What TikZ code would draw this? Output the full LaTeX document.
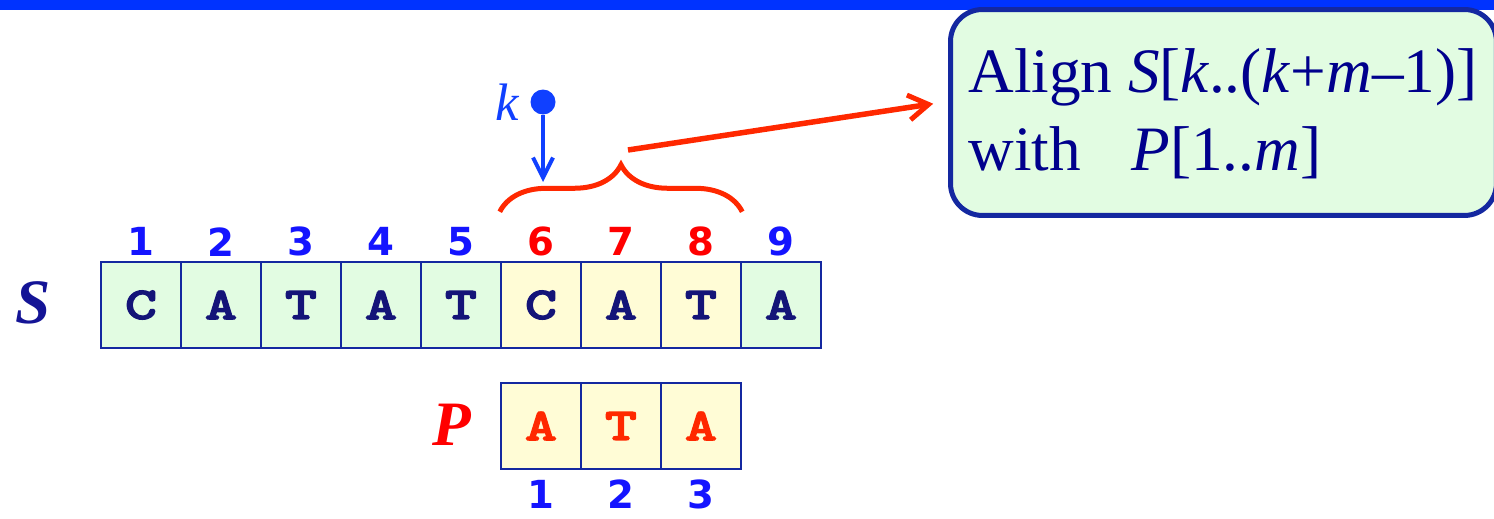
\documentclass[tikz,border=0pt]{standalone}
\usepackage{fontspec}
\setmainfont{Liberation Serif}
\newfontfamily\indexfont{DejaVu Sans}
\newfontfamily\cellfont{lmmonolt10-bold.otf}[FakeBold=2.5, FakeStretch=1.35]
\usetikzlibrary{arrows.meta,decorations.pathreplacing,positioning}

\definecolor{barblue}{RGB}{0,51,255}
\definecolor{celldraw}{RGB}{20,40,160}
\definecolor{cellgreen}{RGB}{226,252,226}
\definecolor{cellyellow}{RGB}{255,252,214}
\definecolor{letternavy}{RGB}{20,20,120}
\definecolor{numblue}{RGB}{20,20,255}
\definecolor{numred}{RGB}{255,0,0}
\definecolor{arrowred}{RGB}{255,40,0}
\definecolor{kblue}{RGB}{16,64,255}
\definecolor{textnavy}{RGB}{0,0,140}
\definecolor{labelnavy}{RGB}{20,20,150}

\tikzset{
    % cells of the strings
    cell/.style={
        draw=celldraw,
        line width=0.05cm,
        minimum width=1.6cm,
        minimum height=1.72cm,
        inner sep=0pt,
        font=\cellfont\fontsize{26}{26}\selectfont,
        text=letternavy
    },
    cell-plain/.style={cell, fill=cellgreen},
    cell-match/.style={cell, fill=cellyellow},
    cell-pattern/.style={cell, fill=cellyellow, text=arrowred},
    % position numbers
    index/.style={
        inner sep=0pt,
        font=\indexfont\bfseries\fontsize{22}{22}\selectfont,
        text=numblue
    },
    index-plain/.style={index},
    index-match/.style={index, text=numred},
    % string names
    str-name/.style={
        font=\bfseries\itshape\fontsize{36}{36}\selectfont
    },
    % arrows
    red-arrow/.style={
        draw=arrowred,
        line width=0.11cm,
        -{Straight Barb[length=0.4cm, width=0.5cm, line width=0.1cm]}
    },
    blue-arrow/.style={
        draw=kblue,
        line width=0.08cm,
        -{Straight Barb[length=0.4cm, width=0.4cm, line width=0.08cm]}
    },
    % note box
    note/.style={
        draw=celldraw,
        fill=cellgreen,
        line width=0.1cm,
        rounded corners=0.64cm,
        minimum width=10.92cm,
        minimum height=4.12cm
    },
    note-text/.style={
        inner sep=0pt,
        align=left,
        text=textnavy,
        font=\fontsize{36}{44.4}\selectfont
    }
}

\begin{document}
\begin{tikzpicture}[x=0.02cm, y=-0.02cm]

    \useasboundingbox (0,0) rectangle (1494,518);

    % top rule
    \fill [barblue] (0,0) rectangle (1494,10);

    % draw S
    \foreach \c/\s [count=\i] in {C/plain, A/plain, T/plain, A/plain, T/plain, C/match, A/match, T/match, A/plain} {
        \node [cell-\s] (s\i) at (61+80*\i, 305) {\c};
        \node [index-\s] at ([yshift=0.38cm]s\i.north) {\i};
    }
    \node [str-name, text=labelnavy] (s-name) at (33, 303) {S};

    % draw P
    \foreach \c [count=\i] in {A, T, A} {
        \node [cell-pattern] (p\i) at (461+80*\i, 426) {\c};
        \node [index] at ([yshift=-0.48cm]p\i.south) {\i};
    }
    \node [str-name, text=numred] (p-name) at (452, 425) {P};

    % shift k
    \node [circle, fill=kblue, inner sep=0pt, minimum size=0.5cm] (kdot) at (543,102) {};
    \node [text=kblue, font=\itshape\fontsize{30}{30}\selectfont] (k-name) at (507,102) {k};
    \coordinate (ktip) at (543,182);
    \draw [blue-arrow] (kdot) -- (ktip);

    % window under the shift
    \draw [arrowred, line width=0.1cm, decorate, decoration={brace, amplitude=0.94cm}]
        ([yshift=0.98cm]s6.north west) -- ([yshift=0.98cm]s8.north east);
    \coordinate (bracetip) at (628,150);

    % note
    \node [note, anchor=north west] (box) at (948,7) {};
    \node [note-text, anchor=north west] (box-text) at (968,48)
        {Align \textit{S}[\textit{k}..(\textit{k}+\textit{m}–1)]\\
         with\hspace{0.55em} \textit{P}[1..\textit{m}]};
    \draw [red-arrow, shorten >=0.3cm] (bracetip) -- ([yshift=0.22cm]box.west);

\end{tikzpicture}
\end{document}
